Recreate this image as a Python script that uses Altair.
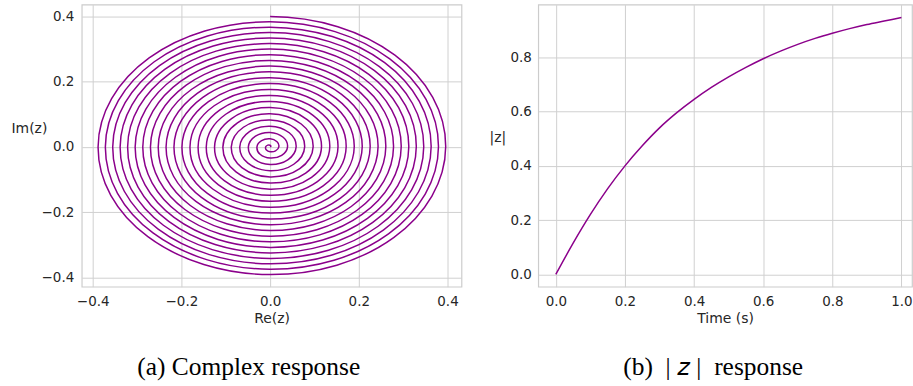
import altair as alt
import pandas as pd

# ---------------- data ----------------
# right panel: |z| against time
time_s = [0.0, 0.05, 0.1, 0.15, 0.2, 0.25, 0.3, 0.35, 0.4, 0.45, 0.5,
          0.55, 0.6, 0.65, 0.7, 0.75, 0.8, 0.85, 0.9, 0.95, 1.0]
z_abs = [0.0, 0.115, 0.221, 0.316, 0.400, 0.474, 0.540, 0.596, 0.645, 0.689, 0.728,
         0.763, 0.795, 0.823, 0.848, 0.870, 0.889, 0.906, 0.921, 0.934, 0.947]

# left panel: spiral, radius read every 45 degrees of turn (22.25 turns, counter-clockwise).
# The first and last entries are only guide points for the curve's direction at its two ends
# (the curve itself runs from the centre, 0 deg, to the top of the plot, 8010 deg).
spiral_angle_deg = list(range(-45, 8056, 45))
spiral_radius = [
    0.0000,
    0.0000, 0.0025, 0.0050, 0.0074, 0.0099, 0.0124, 0.0148, 0.0173, 0.0197, 0.0222,
    0.0247, 0.0271, 0.0296, 0.0320, 0.0344, 0.0369, 0.0393, 0.0417, 0.0442, 0.0466,
    0.0490, 0.0515, 0.0539, 0.0563, 0.0587, 0.0611, 0.0635, 0.0659, 0.0683, 0.0707,
    0.0731, 0.0755, 0.0779, 0.0803, 0.0827, 0.0851, 0.0875, 0.0899, 0.0922, 0.0946,
    0.0970, 0.0993, 0.1017, 0.1041, 0.1064, 0.1088, 0.1112, 0.1135, 0.1159, 0.1182,
    0.1206, 0.1229, 0.1252, 0.1276, 0.1299, 0.1322, 0.1346, 0.1369, 0.1392, 0.1415,
    0.1439, 0.1462, 0.1485, 0.1508, 0.1531, 0.1554, 0.1577, 0.1600, 0.1623, 0.1646,
    0.1669, 0.1692, 0.1715, 0.1738, 0.1761, 0.1783, 0.1806, 0.1829, 0.1852, 0.1874,
    0.1897, 0.1920, 0.1942, 0.1965, 0.1987, 0.2010, 0.2032, 0.2055, 0.2077, 0.2100,
    0.2122, 0.2145, 0.2167, 0.2189, 0.2212, 0.2234, 0.2256, 0.2279, 0.2301, 0.2323,
    0.2345, 0.2367, 0.2389, 0.2412, 0.2434, 0.2456, 0.2478, 0.2500, 0.2522, 0.2544,
    0.2566, 0.2587, 0.2609, 0.2631, 0.2653, 0.2675, 0.2697, 0.2718, 0.2740, 0.2762,
    0.2783, 0.2805, 0.2827, 0.2848, 0.2870, 0.2891, 0.2913, 0.2934, 0.2956, 0.2977,
    0.2999, 0.3020, 0.3042, 0.3063, 0.3084, 0.3106, 0.3127, 0.3148, 0.3169, 0.3191,
    0.3212, 0.3233, 0.3254, 0.3275, 0.3296, 0.3318, 0.3339, 0.3360, 0.3381, 0.3402,
    0.3423, 0.3444, 0.3464, 0.3485, 0.3506, 0.3527, 0.3548, 0.3569, 0.3589, 0.3610,
    0.3631, 0.3652, 0.3672, 0.3693, 0.3714, 0.3734, 0.3755, 0.3775, 0.3796, 0.3816,
    0.3837, 0.3857, 0.3878, 0.3898, 0.3919, 0.3939, 0.3959, 0.3980, 0.4000,
    0.4020,
]

tick_re = [-0.4, -0.2, 0.0, 0.2, 0.4]
tick_im = [-0.4, -0.2, 0.0, 0.2, 0.4]
tick_t = [0.0, 0.2, 0.4, 0.6, 0.8, 1.0]
tick_abs = [0.0, 0.2, 0.4, 0.6, 0.8]

LINE = "#8b008b"
GRID = "#d0d0d0"
TXT = "#262626"
FONT = "DejaVu Sans"
SERIF = "Liberation Serif"


def ax(vals, title, **kw):
    base = dict(values=vals, format=".1f", title=title, grid=True, gridColor=GRID,
                gridWidth=1, ticks=False, tickSize=0, domain=False,
                labelFont=FONT, labelFontSize=13.5, labelColor=TXT,
                titleFont=FONT, titleFontSize=14, titleColor=TXT,
                titleFontWeight="normal")
    base.update(kw)
    return alt.Axis(**base)


spiral_df = pd.DataFrame({"i": list(range(len(spiral_radius))),
                          "angle": spiral_angle_deg, "r": spiral_radius})
resp_df = pd.DataFrame({"t": time_s, "z": z_abs})

left = alt.Chart(spiral_df).transform_calculate(
    x="datum.r * cos(datum.angle * PI / 180)",
    y="datum.r * sin(datum.angle * PI / 180)",
).mark_line(color=LINE, strokeWidth=1.5, interpolate="cardinal-open",
            tension={"expr": "-0.125"}).encode(
    x=alt.X("x:Q", scale=alt.Scale(domain=[-0.4247, 0.4315], nice=False, zero=False),
            axis=ax(tick_re, "Re(z)", labelPadding=8,
                    titleY=36, titleBaseline="alphabetic")),
    y=alt.Y("y:Q", scale=alt.Scale(domain=[-0.429, 0.4364], nice=False, zero=False),
            axis=ax(tick_im, "Im(z)", labelPadding=8,
                    titleAngle=0, titleX=-53, titleY=128.5, titleAlign="center",
                    titleBaseline="alphabetic")),
    order="i:Q",
).properties(
    width=381, height=283,
    title=alt.TitleParams("(a) Complex response", orient="bottom", frame="group",
                          anchor="middle", dx=-23, offset=30, font=SERIF,
                          fontSize=25.5, fontWeight="normal", color="black"),
)

right = alt.Chart(resp_df).mark_line(color=LINE, strokeWidth=1.5, interpolate="monotone").encode(
    x=alt.X("t:Q", scale=alt.Scale(domain=[-0.051, 1.0306], nice=False, zero=False),
            axis=ax(tick_t, "Time (s)", labelPadding=8,
                    titleY=36, titleBaseline="alphabetic")),
    y=alt.Y("z:Q", scale=alt.Scale(domain=[-0.0455, 0.9945], nice=False, zero=False),
            axis=ax(tick_abs, "|z|", labelPadding=7,
                    titleAngle=0, titleX=-41, titleY=137.7, titleAlign="center",
                    titleBaseline="alphabetic")),
).properties(
    width=375, height=283,
    title=alt.TitleParams("(b)\u2002|\u2005𝑧\u2005|\u2002response", orient="bottom",
                          frame="group", anchor="middle", dx=-12, offset=30, font=SERIF,
                          fontSize=25.5, fontWeight="normal", color="black"),
)

chart = alt.hconcat(left, right, spacing=26).properties(
    padding={"left": 10, "top": 3, "right": 0, "bottom": 0},
    background="white",
).configure_view(stroke="#cccccc", strokeWidth=1.2)

chart.save("out.html", embed_options={"renderer": "svg", "actions": False})
